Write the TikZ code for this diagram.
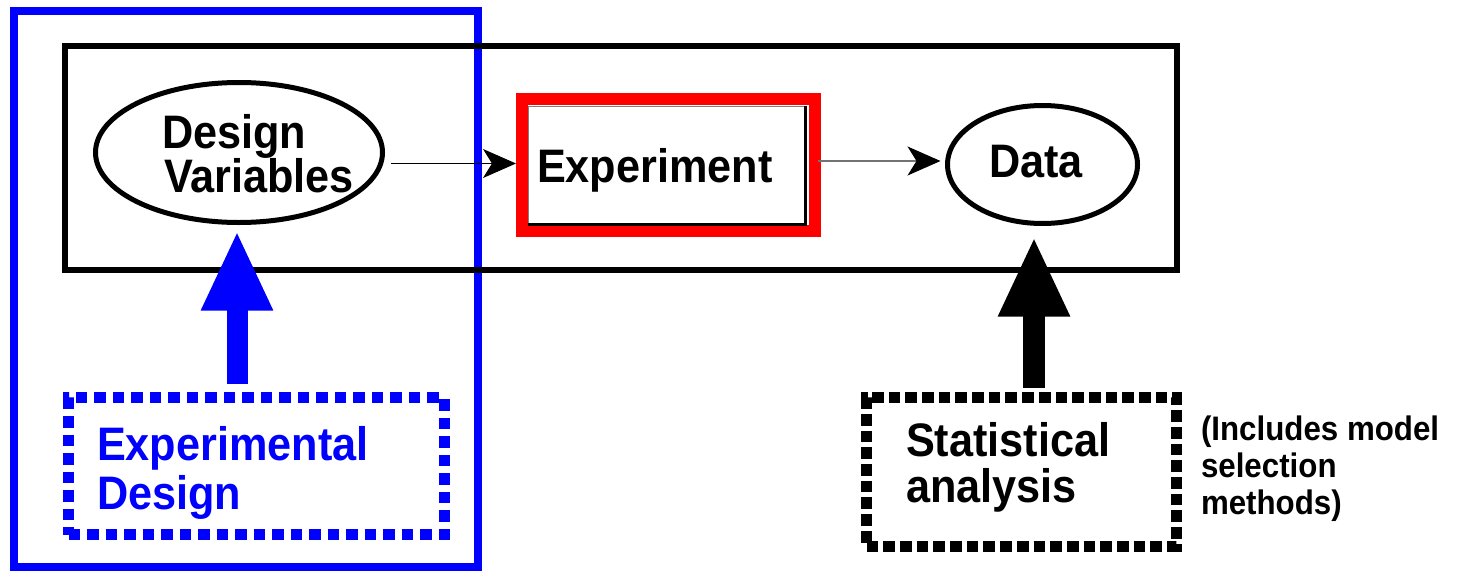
\documentclass[tikz,border=0pt]{standalone}
\usepackage{fontspec}
\setmainfont[FakeStretch=0.92]{Liberation Sans}
\usetikzlibrary{arrows.meta,shapes.geometric}
\definecolor{myblue}{RGB}{0,0,255}
\definecolor{myred}{RGB}{255,0,0}
\begin{document}
\begin{tikzpicture}[x=1pt,y=-1pt,
  lbl/.style={anchor=base west, inner sep=0pt, outer sep=0pt, font=\bfseries\fontsize{47}{47}\selectfont},
  small/.style={anchor=base west, inner sep=0pt, outer sep=0pt, font=\bfseries\fontsize{34}{34}\selectfont},
  boxframe/.style={draw, rectangle, inner sep=0pt, outer sep=0pt},
  oval/.style={draw, ellipse, line width=5pt, inner sep=0pt, outer sep=0pt},
  thinarrow/.style={-{Stealth[length=33pt,width=29pt,inset=9pt,color=black]}},
  fatarrow/.style={-{Triangle[length=80pt,width=66pt]}}
]
\useasboundingbox (0,0) rectangle (1458,570);

% blue frame around the design part
\node[boxframe, draw=myblue, line width=8pt, minimum width=464pt, minimum height=556pt] (bframe) at (245.5,289) {};

% dotted boxes
\node[boxframe, draw=myblue, line width=11pt, dash pattern=on 11.5pt off 7pt, minimum width=375.5pt, minimum height=137pt] (ed) at (256.25,466) {};
\node[boxframe, draw=black, line width=11pt, dash pattern=on 11.7pt off 5pt, minimum width=310pt, minimum height=148.5pt] (sa) at (1021.5,471.75) {};

% main black frame
\node[boxframe, draw=black, line width=6pt, minimum width=1112.5pt, minimum height=224.5pt] (mframe) at (620.75,157.75) {};

% ellipses
\node[oval, minimum width=287pt, minimum height=140pt] (dv) at (239,152.5) {};
\node[oval, minimum width=190pt, minimum height=118pt] (data) at (1042.5,164.5) {};

% experiment box
\node[boxframe, draw=myred, line width=12pt, minimum width=293pt, minimum height=132pt] (exp) at (668.5,165) {};
\draw[gray, line width=0.8pt] (528,224) -- (528,106) -- (805,106);
\draw[black, line width=3.5pt] (805.5,106) -- (805.5,224.5) -- (528,224.5);

% fat arrows
\draw[myblue, line width=21pt, fatarrow, shorten <=14pt, shorten >=8pt] (ed.north -| 237,0) -- (dv.south -| 237,0);
\draw[black, line width=22pt, fatarrow, shorten <=10pt, shorten >=13pt] (sa.north -| 1034,0) -- (data.south -| 1034,0);

% thin arrows
\coordinate (a1) at ([xshift=8pt,yshift=-11pt]dv.east);
\draw[black, line width=1pt, thinarrow] (a1) -- ([xshift=-6pt]exp.west |- a1);
\coordinate (a2) at ([xshift=3pt,yshift=4pt]exp.east);
\draw[black!55, line width=1.2pt, thinarrow] (a2) -- ([xshift=-7pt]data.west |- a2);

% texts
\node[lbl] (dv1) at (162,148) {Design};
\node[lbl] (dv2) at (164,192) {Variables};
\node[lbl] (expt) at (537,182) {Experiment};
\node[lbl] (datat) at (989,177) {Data};
\node[lbl, text=myblue] (ed1) at (97,460) {Experimental};
\node[lbl, text=myblue] (ed2) at (97,509) {Design};
\node[lbl] (sa1) at (906,456) {Statistical};
\node[lbl] (sa2) at (906,502) {analysis};
\node[small] (inc1) at (1201,440) {(Includes model};
\node[small] (inc2) at (1201,477) {selection};
\node[small] (inc3) at (1201,514) {methods)};
\end{tikzpicture}
\end{document}
